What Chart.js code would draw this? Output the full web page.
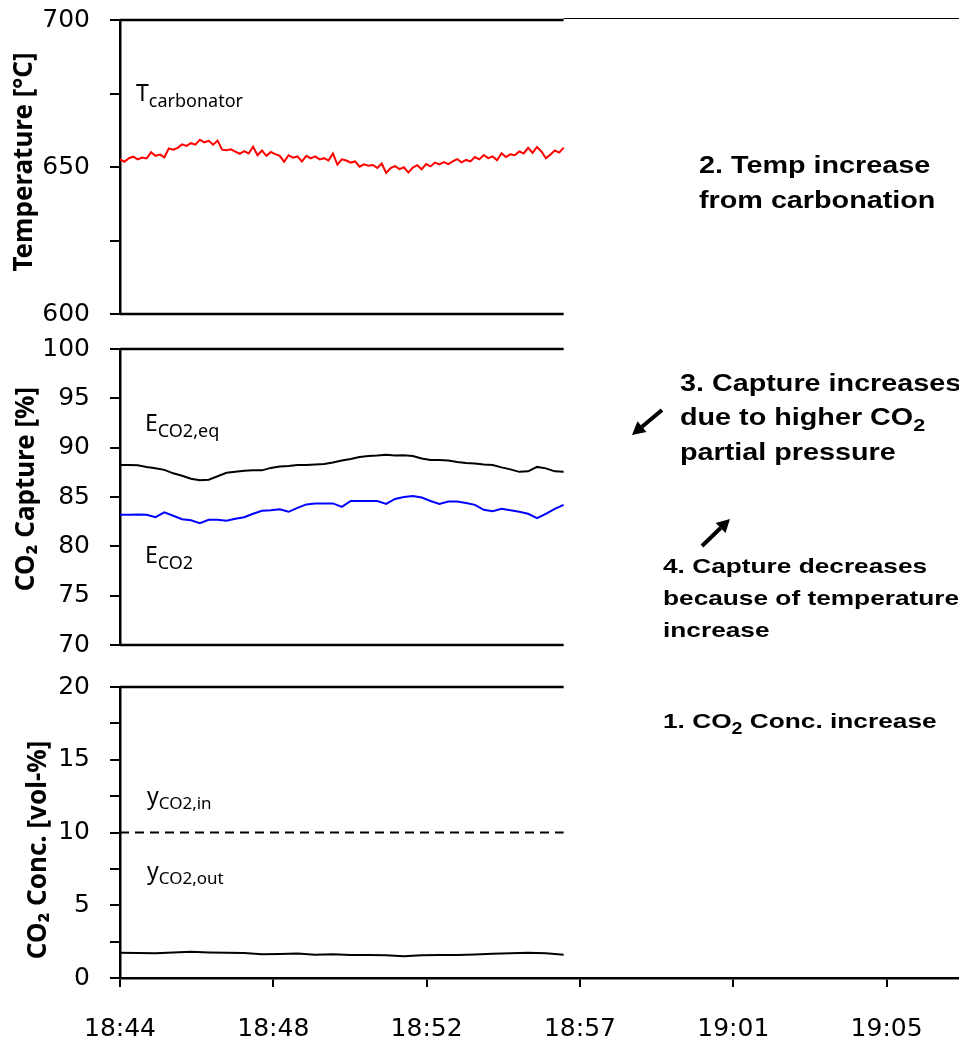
<!DOCTYPE html>
<html>
<head>
<meta charset="utf-8">
<script src="https://cdn.jsdelivr.net/npm/chart.js@4.4.1/dist/chart.umd.min.js"></script>
<style>
  html, body { margin: 0; padding: 0; background: #fff; }
  #page { position: relative; width: 959px; height: 1040px; overflow: hidden; }
  #page canvas { position: absolute; left: 0; }
  .lbl { position: absolute; font-family: 'Noto Sans', 'Open Sans', sans-serif; font-size: 23px; line-height: 1; white-space: nowrap; color: #000; }
  .lbl span { font-size: 18px; position: relative; top: 6px; }
  .lbl.small span { font-size: 17px; top: 5px; }
  .note { position: absolute; font-family: 'Liberation Sans', Arial, sans-serif; font-weight: bold; white-space: nowrap; color: #000; transform: scaleX(1.25); transform-origin: 0 0; }
  .note .s { font-size: 0.75em; position: relative; top: 6px; }
  svg { position: absolute; left: 0; top: 0; }
</style>
</head>
<body>
<div id="page">
  <canvas id="tempChart" width="959" height="334" style="top:0px"></canvas>
  <canvas id="captureChart" width="959" height="331" style="top:334px"></canvas>
  <canvas id="concChart" width="959" height="375" style="top:665px"></canvas>

  <div class="lbl" style="left:136px; top:81px">T<span>carbonator</span></div>
  <div class="lbl" style="left:145px; top:411px">E<span>CO2,eq</span></div>
  <div class="lbl" style="left:145px; top:543px">E<span>CO2</span></div>
  <div class="lbl small" style="left:147px; top:784px">y<span>CO2,in</span></div>
  <div class="lbl small" style="left:147px; top:859px">y<span>CO2,out</span></div>

  <div class="note" style="left:699px; top:148px; font-size:23px; line-height:35px">2. Temp increase<br>from carbonation</div>
  <div class="note" style="left:680px; top:367px; font-size:23px; line-height:33.5px">3. Capture increases<br>due to higher CO<span class="s">2</span><br>partial pressure</div>
  <div class="note" style="left:663px; top:550px; font-size:21px; line-height:32px">4. Capture decreases<br>because of temperature<br>increase</div>
  <div class="note" style="left:663px; top:705px; font-size:21px; line-height:32px">1. CO<span class="s">2</span> Conc. increase</div>

  <svg width="959" height="1040">
    <line x1="662" y1="410" x2="642" y2="426.7" stroke="#000" stroke-width="4"/>
    <polygon points="632,435 646.5,432.1 637.5,421.3" fill="#000"/>
    <line x1="702" y1="546" x2="720.6" y2="528" stroke="#000" stroke-width="4"/>
    <polygon points="730,519 725.5,533 715.7,523" fill="#000"/>
  </svg>
</div>

<script>
// x axis: minutes after 18:44
const X_MAX = 23.64;
const DATA_END = 12.5;
const xTickValues = [0, 4.32, 8.64, 12.96, 17.28, 21.6];
const xTickLabels = ['18:44', '18:48', '18:52', '18:57', '19:01', '19:05'];

// carbonator temperature [°C], one sample every 0.125 min
const tempStep = 0.125;
const tCarbonator = [
  652.6, 651.8, 653.0, 653.5, 652.6, 653.2, 652.9, 655.0, 653.8, 654.2,
  653.3, 656.3, 655.9, 656.5, 657.7, 657.2, 658.1, 657.6, 659.3, 658.4,
  658.9, 657.6, 659.0, 655.9, 655.7, 656.0, 655.2, 654.5, 655.4, 654.6,
  656.9, 654.0, 655.6, 653.8, 655.1, 654.4, 653.8, 651.8, 654.0, 653.2,
  653.6, 651.9, 653.8, 652.9, 653.6, 652.6, 653.0, 652.2, 654.6, 650.8,
  652.6, 652.2, 651.5, 651.9, 650.1, 650.9, 650.4, 650.7, 649.7, 651.2,
  648.0, 649.6, 650.3, 649.3, 649.9, 648.1, 649.8, 650.6, 649.2, 651.0,
  650.2, 651.5, 650.9, 651.7, 651.0, 651.9, 652.7, 651.6, 652.4, 651.9,
  653.4, 652.6, 654.1, 653.0, 653.6, 652.3, 654.7, 653.4, 654.3, 654.0,
  655.3, 654.6, 656.5, 654.8, 656.8, 655.3, 653.0, 654.2, 655.6, 654.9,
  656.6
];

// CO2 capture [%], one sample every 0.25 min
const captureStep = 0.25;
const eCO2eq = [
  88.25, 88.25, 88.22, 88.05, 87.92, 87.75, 87.4, 87.15, 86.85, 86.7,
  86.75, 87.1, 87.45, 87.55, 87.65, 87.7, 87.7, 87.95, 88.1, 88.15,
  88.25, 88.25, 88.3, 88.35, 88.5, 88.7, 88.85, 89.05, 89.15, 89.2,
  89.28, 89.2, 89.22, 89.15, 88.9, 88.75, 88.75, 88.7, 88.55, 88.45,
  88.4, 88.3, 88.25, 88.0, 87.8, 87.55, 87.6, 88.05, 87.9, 87.6,
  87.55
];
const eCO2 = [
  83.2, 83.2, 83.22, 83.2, 82.95, 83.45, 83.1, 82.75, 82.65, 82.35,
  82.7, 82.7, 82.6, 82.8, 82.95, 83.3, 83.6, 83.65, 83.75, 83.5,
  83.9, 84.25, 84.35, 84.35, 84.35, 84.0, 84.6, 84.6, 84.6, 84.6,
  84.3, 84.8, 85.0, 85.1, 84.95, 84.6, 84.3, 84.55, 84.55, 84.4,
  84.2, 83.7, 83.55, 83.8, 83.65, 83.5, 83.3, 82.85, 83.3, 83.8,
  84.2
];

// CO2 concentration [vol-%], one sample every 0.5 min
const concStep = 0.5;
const yCO2in = [
  10, 10, 10, 10, 10, 10, 10, 10, 10, 10, 10, 10, 10,
  10, 10, 10, 10, 10, 10, 10, 10, 10, 10, 10, 10, 10
];
const yCO2out = [
  1.74, 1.72, 1.70, 1.76, 1.80, 1.76, 1.74, 1.72, 1.64, 1.65, 1.68, 1.60, 1.64,
  1.58, 1.58, 1.56, 1.50, 1.56, 1.58, 1.58, 1.62, 1.66, 1.70, 1.74, 1.70, 1.60
];

function toPoints(values, step) {
  return values.map((v, i) => ({ x: i * step, y: v }));
}

// top / bottom frame of each panel, only as far as the data goes
const panelFrame = {
  id: 'panelFrame',
  afterDatasetsDraw(chart, args, opts) {
    const { ctx, chartArea, scales } = chart;
    const xEnd = scales.x.getPixelForValue(opts.end);
    ctx.save();
    ctx.strokeStyle = '#000';
    ctx.lineWidth = 2.5;
    ctx.beginPath();
    opts.edges.forEach(edge => {
      ctx.moveTo(chartArea.left, chartArea[edge]);
      ctx.lineTo(xEnd, chartArea[edge]);
    });
    ctx.stroke();
    if (opts.thinTop) {
      ctx.lineWidth = 1;
      ctx.beginPath();
      ctx.moveTo(xEnd, chartArea.top - 1.5);
      ctx.lineTo(chartArea.right, chartArea.top - 1.5);
      ctx.stroke();
    }
    ctx.restore();
  }
};

// y axis title, drawn from the scale's title options at a set spot
const axisTitle = {
  id: 'axisTitle',
  afterDraw(chart, args, opts) {
    const title = chart.scales.y.options.title;
    const ctx = chart.ctx;
    ctx.save();
    ctx.translate(opts.x, opts.y);
    ctx.rotate(-Math.PI / 2);
    ctx.font = 'bold ' + title.font.size + 'px "' + title.font.family + '"';
    ctx.fillStyle = title.color;
    ctx.textAlign = 'center';
    ctx.textBaseline = 'middle';
    ctx.fillText(title.text, 0, 0);
    ctx.restore();
  }
};

const tickFont = { family: 'DejaVu Sans', size: 25 };

function yAxis(min, max, step, labelEvery, title) {
  return {
    min: min,
    max: max,
    afterFit: scale => {
      scale.width = 120;
      // panel heights are fixed by the layout padding
      scale.paddingTop = 0;
      scale.paddingBottom = 0;
    },
    border: { display: true, color: '#000', width: 2.5 },
    grid: { drawOnChartArea: false, color: '#000', lineWidth: 2, tickLength: 10 },
    ticks: {
      stepSize: step,
      autoSkip: false,
      padding: 20,
      color: '#000',
      font: tickFont,
      callback: v => (v % labelEvery === 0 ? v : '')
    },
    title: {
      display: false,
      text: title,
      color: '#000',
      font: { family: 'Noto Sans', size: 26, weight: 'bold' }
    }
  };
}

function xAxis(show) {
  return {
    type: 'linear',
    min: 0,
    max: X_MAX,
    display: show,
    afterBuildTicks: scale => { scale.ticks = xTickValues.map(v => ({ value: v })); },
    afterFit: scale => {
      scale.height = show ? 62 : 0;
      scale.paddingLeft = 0;
      scale.paddingRight = 0;
    },
    border: { display: true, color: '#000', width: 2.5 },
    grid: { drawOnChartArea: false, color: '#000', lineWidth: 2, tickLength: 9 },
    ticks: {
      autoSkip: false,
      maxRotation: 0,
      padding: 27,
      color: '#000',
      font: tickFont,
      callback: (v, i) => xTickLabels[i]
    }
  };
}

function makePanel(id, datasets, y, padding, frame, titlePos) {
  return new Chart(document.getElementById(id), {
    type: 'line',
    data: { datasets: datasets },
    options: {
      responsive: false,
      animation: false,
      layout: { padding: padding },
      elements: { point: { radius: 0 }, line: { tension: 0 } },
      scales: { x: xAxis(id === 'concChart'), y: y },
      plugins: {
        legend: { display: false },
        tooltip: { enabled: false },
        panelFrame: frame,
        axisTitle: titlePos
      }
    },
    plugins: [panelFrame, axisTitle]
  });
}

makePanel('tempChart', [
  { label: 'T carbonator', data: toPoints(tCarbonator, tempStep), borderColor: '#ff0000', borderWidth: 2 }
], yAxis(600, 700, 25, 50, 'Temperature [°C]'),
{ top: 20, bottom: 20, left: 0, right: 0 },
{ end: DATA_END, edges: ['top', 'bottom'], thinTop: true },
{ x: 25, y: 162 });

makePanel('captureChart', [
  { label: 'E CO2,eq', data: toPoints(eCO2eq, captureStep), borderColor: '#000000', borderWidth: 2 },
  { label: 'E CO2', data: toPoints(eCO2, captureStep), borderColor: '#0000ff', borderWidth: 2 }
], yAxis(70, 100, 5, 5, 'CO₂ Capture [%]'),
{ top: 15, bottom: 20, left: 0, right: 0 },
{ end: DATA_END, edges: ['top', 'bottom'] },
{ x: 27, y: 155 });

makePanel('concChart', [
  { label: 'y CO2,in', data: toPoints(yCO2in, concStep), borderColor: '#000000', borderWidth: 2, borderDash: [9, 6] },
  { label: 'y CO2,out', data: toPoints(yCO2out, concStep), borderColor: '#000000', borderWidth: 2 }
], yAxis(0, 20, 2.5, 5, 'CO₂ Conc. [vol-%]'),
{ top: 22, bottom: 0, left: 0, right: 0 },
{ end: DATA_END, edges: ['top'] },
{ x: 39, y: 185 });
</script>
</body>
</html>
